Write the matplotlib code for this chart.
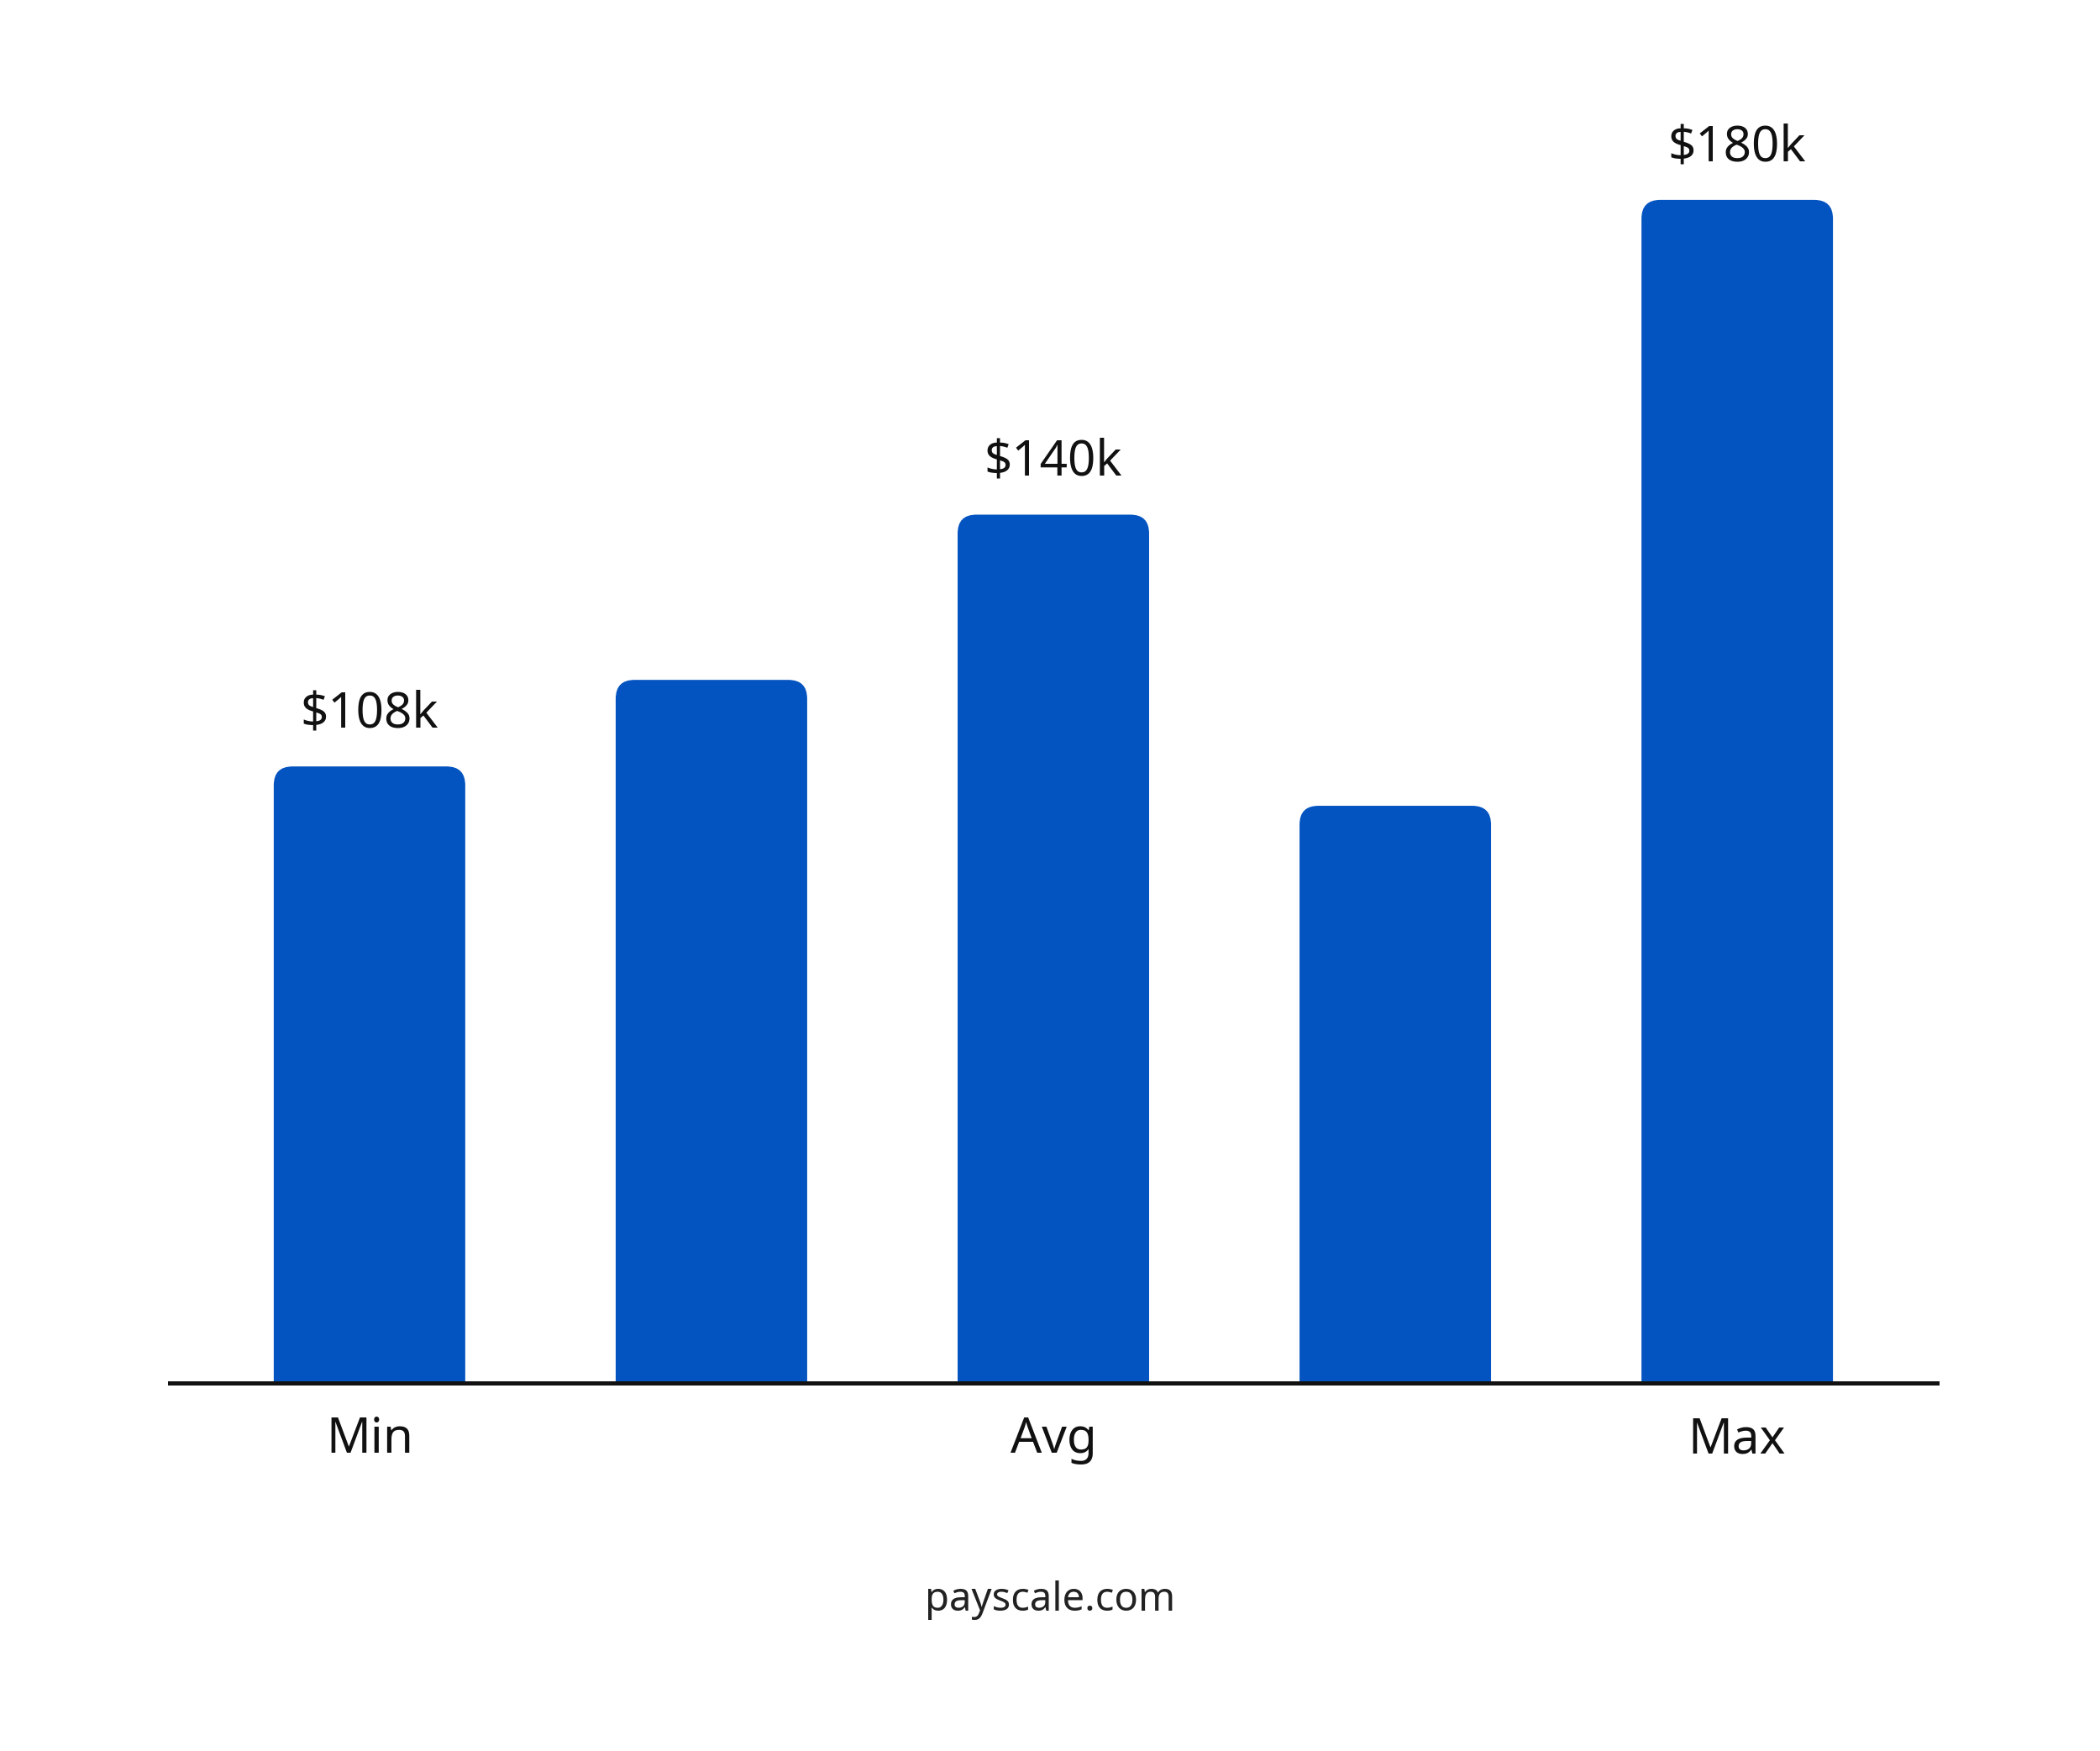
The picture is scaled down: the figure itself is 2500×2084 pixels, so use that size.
import matplotlib
matplotlib.use("Agg")
import matplotlib.pyplot as plt
from matplotlib.patches import FancyBboxPatch

categories = ["Min", "", "Avg", "", "Max"]
values = [108, 119, 140, 103, 180]
value_labels = ["$108k", "", "$140k", "", "$180k"]
color = "#0353C0"

plt.rcParams['font.family'] = ['Noto Sans', 'DejaVu Sans']
fig = plt.figure(figsize=(25, 20.84), dpi=100)
ax = fig.add_axes([0.0807, 0.2104, 0.8418, 0.7896])
ybase = 29.7
ax.set_xlim(-0.585, 4.585)
ax.set_ylim(ybase, 205.4)
x = list(range(len(values)))
bars = ax.bar(x, [v - ybase for v in values], bottom=ybase, width=0.56, color=color)
aspect = (175.7 / 1646) / (5.17 / 2105)
for b in bars:
    p = FancyBboxPatch((b.get_x(), ybase - 20), b.get_width(), b.get_height() + 20,
                       boxstyle="round,pad=0,rounding_size=0.055", mutation_aspect=aspect,
                       facecolor=color, edgecolor="none", clip_on=True)
    b.set_visible(False)
    ax.add_patch(p)
for xi, v, lab in zip(x, values, value_labels):
    if lab:
        ax.text(xi, v + 3.5, lab, ha="center", va="bottom", fontsize=42, fontweight="bold", color="#111111")
for s in ["top", "right", "left"]:
    ax.spines[s].set_visible(False)
ax.spines["bottom"].set_linewidth(3.6)
ax.spines["bottom"].set_color("#111111")
ax.set_yticks([])
ax.set_xticks(x)
ax.set_xticklabels(categories, fontsize=42, fontweight="bold", color="#111111")
ax.tick_params(axis="x", length=0, pad=28)
fig.text(0.5, 0.086, "payscale.com", ha="center", va="center", fontsize=34, color="#222222")
fig.savefig("out.png", dpi=100, facecolor="white")
